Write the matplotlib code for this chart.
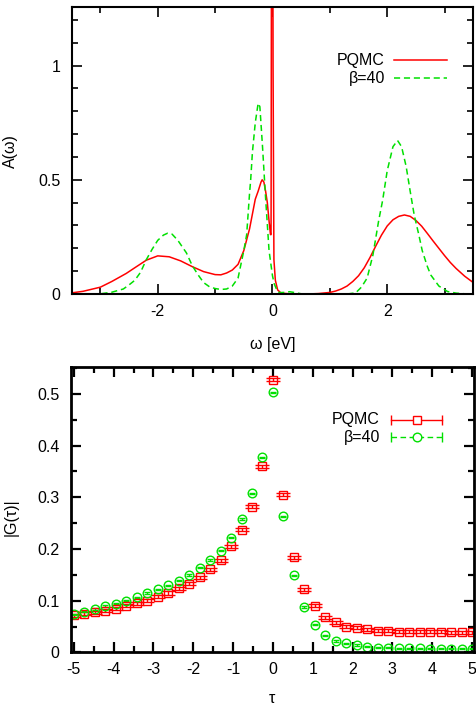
import matplotlib
matplotlib.use("Agg")
import matplotlib.pyplot as plt
from matplotlib.ticker import MultipleLocator

plt.rcParams['font.family'] = ['Liberation Sans', 'DejaVu Sans']
plt.rcParams['axes.unicode_minus'] = False

# spectral function A(w), PQMC
w_pqmc = [-3.5, -3.3, -3.0, -2.8, -2.55, -2.4, -2.2, -2.0, -1.8, -1.6, -1.4, -1.2,
          -1.0, -0.9, -0.8, -0.7, -0.6, -0.5, -0.4, -0.3, -0.25, -0.2, -0.18, -0.15,
          -0.12, -0.09, -0.06, -0.035, -0.025, -0.015, 0.0, 0.01, 0.025, 0.05, 0.09,
          0.15, 0.3, 0.6, 0.8, 1.0, 1.1, 1.2, 1.3, 1.4, 1.5, 1.6, 1.7, 1.8, 1.9, 2.0, 2.1,
          2.2, 2.3, 2.4, 2.5, 2.6, 2.7, 2.8, 2.9, 3.0, 3.1, 3.2, 3.35, 3.5]
a_pqmc = [0.005, 0.012, 0.030, 0.055, 0.090, 0.115, 0.148, 0.167, 0.163, 0.145, 0.120, 0.098,
          0.085, 0.084, 0.092, 0.105, 0.13, 0.19, 0.285, 0.415, 0.45, 0.49, 0.50, 0.49,
          0.45, 0.40, 0.32, 0.26, 0.26, 2.0, 3.0, 1.0, 0.15, 0.06, 0.018,
          0.004, 0.001, 0.0, 0.002, 0.007, 0.013, 0.022, 0.035, 0.055, 0.08, 0.115, 0.16, 0.21,
          0.258, 0.298, 0.325, 0.340, 0.346, 0.340, 0.322, 0.297, 0.265, 0.232, 0.200, 0.168,
          0.138, 0.112, 0.078, 0.050]

# spectral function A(w), beta=40
w_b40 = [-3.5, -3.0, -2.8, -2.6, -2.5, -2.4, -2.3, -2.2, -2.1, -2.0, -1.9, -1.83, -1.75,
         -1.65, -1.5, -1.4, -1.3, -1.2, -1.1, -1.0, -0.9, -0.8, -0.7, -0.6, -0.5, -0.45,
         -0.4, -0.38, -0.35, -0.3, -0.25, -0.22, -0.175, -0.12, -0.06, 0.0, 0.03, 0.08,
         0.12, 0.2, 0.3, 0.4, 0.5, 0.8, 1.3, 1.45, 1.55, 1.65, 1.75, 1.85, 1.92, 2.0,
         2.1, 2.18, 2.25, 2.33, 2.4, 2.47, 2.55, 2.61, 2.7, 2.76, 2.9, 3.05, 3.2, 3.35, 3.5]
a_b40 = [0.0, 0.001, 0.008, 0.022, 0.04, 0.06, 0.095, 0.15, 0.195, 0.235, 0.258, 0.266, 0.262,
         0.235, 0.18, 0.125, 0.085, 0.05, 0.032, 0.024, 0.02, 0.022, 0.035, 0.07, 0.19, 0.26,
         0.44, 0.5, 0.62, 0.75, 0.835, 0.82, 0.65, 0.42, 0.19, 0.08, 0.045, 0.015,
         0.006, 0.007, 0.01, 0.006, 0.001, 0.0, 0.0, 0.005, 0.03, 0.07, 0.17, 0.32, 0.41, 0.54,
         0.645, 0.672, 0.645, 0.558, 0.45, 0.346, 0.26, 0.19, 0.12, 0.083, 0.035, 0.011, 0.004, 0.001, 0.0]

# imaginary-time Green's function |G(tau)|
tau = [-5.0, -4.737, -4.474, -4.211, -3.947, -3.684, -3.421, -3.158, -2.895, -2.632,
       -2.368, -2.105, -1.842, -1.579, -1.316, -1.053, -0.789, -0.526, -0.263, 0.0,
       0.263, 0.526, 0.789, 1.053, 1.316, 1.579, 1.842, 2.105, 2.368, 2.632,
       2.895, 3.158, 3.421, 3.684, 3.947, 4.211, 4.474, 4.737, 5.0]
g_pqmc = [0.072, 0.075, 0.078, 0.081, 0.085, 0.090, 0.095, 0.100, 0.108, 0.115,
          0.124, 0.133, 0.145, 0.161, 0.178, 0.205, 0.237, 0.282, 0.360, 0.527,
          0.305, 0.184, 0.122, 0.090, 0.068, 0.058, 0.050, 0.048, 0.045, 0.042,
          0.042, 0.040, 0.040, 0.040, 0.040, 0.040, 0.039, 0.039, 0.039]
g_b40 = [0.074, 0.079, 0.084, 0.090, 0.094, 0.100, 0.107, 0.115, 0.122, 0.130,
         0.139, 0.150, 0.164, 0.179, 0.197, 0.222, 0.258, 0.308, 0.377, 0.503,
         0.263, 0.149, 0.088, 0.054, 0.033, 0.022, 0.018, 0.0145, 0.0115, 0.0095,
         0.009, 0.008, 0.008, 0.0078, 0.0075, 0.0075, 0.0075, 0.0072, 0.0072]
err_pqmc = 0.003
err_b40 = 0.0012

RED = '#ff0000'
GREEN = '#00e000'
FS = 11.5

fig = plt.figure(figsize=(4.76, 7.09), dpi=100)
ax1 = fig.add_axes([0.1506, 0.5853, 0.8437, 0.4044])
ax2 = fig.add_axes([0.1485, 0.0797, 0.8473, 0.4020])

# top panel
ax1.plot(w_pqmc, a_pqmc, color=RED, lw=1.1, label='PQMC')
ax1.plot(w_b40, a_b40, color=GREEN, lw=1.1, ls=(0, (4, 2.5)), label='β=40')
ax1.set_xlim(-3.5, 3.5)
ax1.set_ylim(0, 1.255)
ax1.xaxis.set_major_locator(MultipleLocator(2))
ax1.xaxis.set_minor_locator(MultipleLocator(1))
ax1.yaxis.set_major_locator(MultipleLocator(0.5))
ax1.yaxis.set_minor_locator(MultipleLocator(0.1))
ax1.yaxis.set_major_formatter(plt.FuncFormatter(lambda v, p: '%g' % v))
ax1.set_xlabel('ω [eV]', fontsize=FS)
ax1.set_ylabel('A(ω)', fontsize=FS)
ax1.xaxis.set_label_coords(0.5, -0.15)
ax1.yaxis.set_label_coords(-0.134, 0.5)
ax1.legend(loc='upper right', bbox_to_anchor=(0.935, 0.84), frameon=False,
           markerfirst=False, handlelength=3.3, fontsize=FS, labelspacing=0.2,
           borderpad=0, borderaxespad=0, handletextpad=0.6)

# bottom panel
ax2.errorbar(tau, g_pqmc, yerr=err_pqmc, fmt='s', ms=6.2, mfc='none', mec=RED,
             mew=1.0, color=RED, ecolor=RED, elinewidth=1.0, capsize=5.2, capthick=1.0)
ax2.errorbar(tau, g_b40, yerr=err_b40, fmt='o', ms=6.2, mfc='none', mec=GREEN,
             mew=1.0, color=GREEN, ecolor=GREEN, elinewidth=1.0, capsize=2.5, capthick=1.0)
ax2.set_xlim(-5.08, 5.05)
ax2.set_ylim(0, 0.551)
ax2.xaxis.set_major_locator(MultipleLocator(1))
ax2.xaxis.set_minor_locator(MultipleLocator(0.5))
ax2.yaxis.set_major_locator(MultipleLocator(0.1))
ax2.yaxis.set_minor_locator(MultipleLocator(0.05))
ax2.yaxis.set_major_formatter(plt.FuncFormatter(lambda v, p: '%g' % round(v, 2)))
ax2.set_xlabel('τ', fontsize=FS)
ax2.set_ylabel('|G(τ)|', fontsize=FS)
ax2.xaxis.set_label_coords(0.5, -0.135)
ax2.yaxis.set_label_coords(-0.13, 0.475)

# gnuplot style key with error bars
tr = ax2.transAxes
for yk, col, ls, mk, lab in [(0.816, RED, '-', 's', 'PQMC'), (0.756, GREEN, (0, (4, 2.5)), 'o', 'β=40')]:
    ax2.plot([0.794, 0.921], [yk, yk], transform=tr, color=col, lw=1.0, ls=ls, clip_on=False)
    ax2.plot([0.794, 0.921], [yk, yk], transform=tr, ls='none', marker='|', ms=7, mew=1.0,
             color=col, clip_on=False)
    ax2.plot([0.8575], [yk], transform=tr, ls='none', marker=mk, ms=6.2, mfc='white',
             mec=col, mew=1.0, clip_on=False)
    ax2.text(0.767, yk, lab, transform=tr, ha='right', va='center', fontsize=FS)

for ax, lw in [(ax1, 1.5), (ax2, 2.0)]:
    for s in ax.spines.values():
        s.set_linewidth(lw)
    ax.tick_params(which='both', direction='in', top=True, right=True, labelsize=FS,
                   width=lw * 0.8)
    ax.tick_params(which='major', length=7)
    ax.tick_params(which='minor', length=4)
    ax.tick_params(axis='y', pad=8)
    ax.tick_params(axis='x', pad=7)

fig.savefig('out.png', dpi=100)
